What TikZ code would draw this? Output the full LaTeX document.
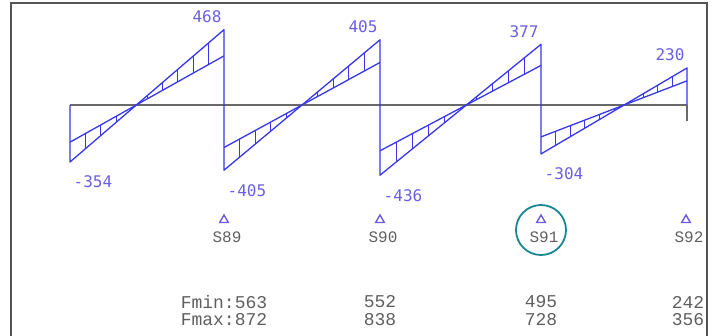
\documentclass[tikz,border=0pt]{standalone}
\usepackage{fontspec}
\usetikzlibrary{shapes.geometric}
\newfontfamily\valfont{DejaVu Sans Mono}
\newfontfamily\supfont{Liberation Mono}
\definecolor{shearblue}{RGB}{55,55,235}
\definecolor{labelblue}{RGB}{105,95,225}
\definecolor{supportviolet}{RGB}{110,90,220}
\definecolor{framegray}{RGB}{85,85,85}
\definecolor{axisgray}{RGB}{105,105,105}
\definecolor{textgray}{RGB}{95,95,95}
\definecolor{ringteal}{RGB}{25,135,145}

\begin{document}
\begin{tikzpicture}[x=1pt,y=1pt,
  frameline/.style={draw=framegray,line width=2pt},
  axisline/.style={draw=axisgray,line width=2pt},
  shearline/.style={draw=shearblue,line width=1.3pt,line join=round},
  hatchline/.style={draw=shearblue,line width=1pt},
  vallabel/.style={text=labelblue,font=\valfont\fontsize{16}{16}\selectfont,inner sep=0pt},
  support/.style={draw=supportviolet,line width=1.4pt,regular polygon,regular polygon sides=3,minimum size=10pt,inner sep=0pt},
  suplabel/.style={text=textgray,font=\supfont\fontsize{16}{16}\selectfont,inner sep=0pt},
  forcelabel/.style={text=textgray,font=\supfont\fontsize{18}{18}\selectfont,inner sep=0pt}]

\useasboundingbox (-70,-230) rectangle (648,105);

% frame
\draw[frameline] (-59,-232) -- (-59,102) -- (637,102) -- (637,-232);

% axis
\draw[axisline] (0,0) -- (617,0);
\draw[axisline] (617,0) -- (617,-16);

% shear diagram, one span at a time
\foreach \xa/\xb/\va/\vb/\n in {0/154/-354/468/a, 154/310/-405/405/b, 310/471/-436/377/c, 471/617/-304/230/d} {
  \draw[shearline] (\xa,0) -- (\xa,{0.161*\va}) -- (\xb,{0.161*\vb}) -- (\xb,0);
  \draw[shearline] (\xa,{0.105*\va}) -- (\xb,{0.105*\vb});
  \foreach \i in {1,...,9}
    \draw[hatchline] ({\xa+\i*(\xb-\xa)/10},{0.161*(\va+\i*(\vb-\va)/10)})
      -- ({\xa+\i*(\xb-\xa)/10},{0.105*(\va+\i*(\vb-\va)/10)});
  \node[vallabel] (low-\n) at ({\xa+23},{0.161*\va-20}) {\va};
  \node[vallabel] (high-\n) at ({\xb-17},{0.161*\vb+13}) {\vb};
}

% supports
\foreach \x/\s in {154/89, 310/90, 471/91, 616/92} {
  \node[support] (sup\s) at (\x,-115) {};
  \node[suplabel] (name\s) at (\x+3,-132) {S\s};
}

\draw[ringteal,line width=1.8pt] (name91.center) ++(-3,7) circle (25);

% forces
\node[forcelabel] (fmin89) at (154,-197) {Fmin:563};
\node[forcelabel] (fmax89) at (154,-215) {Fmax:872};
\node[forcelabel] (fmin90) at (310,-197) {552};
\node[forcelabel] (fmax90) at (310,-215) {838};
\node[forcelabel] (fmin91) at (471,-197) {495};
\node[forcelabel] (fmax91) at (471,-215) {728};
\node[forcelabel] (fmin92) at (618,-197) {242};
\node[forcelabel] (fmax92) at (618,-215) {356};

\end{tikzpicture}
\end{document}
